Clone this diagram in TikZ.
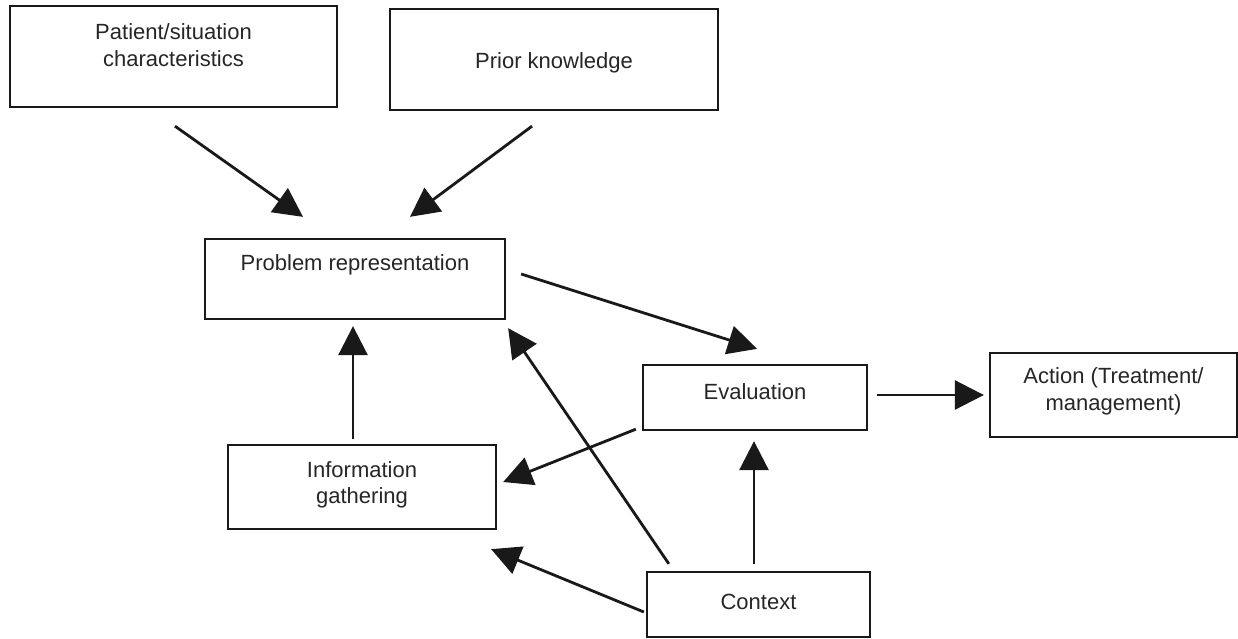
\documentclass[tikz,border=0pt]{standalone}
\usepackage{fontspec}
\setmainfont{Liberation Sans}
\usetikzlibrary{calc,arrows.meta}
\begin{document}
\begin{tikzpicture}[x=1pt,y=-1pt,
  box/.style={draw=black!90, line width=2.3pt, rectangle, inner sep=0pt},
  txt/.style={font=\fontsize{22}{26.5}\selectfont, align=center, text=black!85, inner sep=0pt},
  arr/.style={draw=black!90, line width=2.8pt, -{Triangle[length=29pt,width=29pt]}}]
\useasboundingbox (0,0) rectangle (1238,638);
\fill[white] (0,0) rectangle (1238,638);

\node[box, minimum width=327pt, minimum height=101pt,
  label={[txt, yshift=11.5pt]center:Patient/situation\\characteristics}] (pat) at (173.5,56.5) {};
\node[box, minimum width=328pt, minimum height=101pt,
  label={[txt, yshift=-3.5pt]center:Prior knowledge}] (prior) at (554,59.5) {};
\node[box, minimum width=300pt, minimum height=80pt,
  label={[txt, yshift=14pt]center:Problem representation}] (prob) at (355,279) {};
\node[box, minimum width=224pt, minimum height=65pt,
  label={[txt, yshift=5.5pt]center:Evaluation}] (eval) at (755,397.5) {};
\node[box, minimum width=247pt, minimum height=84pt,
  label={[txt, yshift=3.5pt]center:Action (Treatment/\\management)}] (act) at (1113.5,395) {};
\node[box, minimum width=268pt, minimum height=84pt,
  label={[txt, yshift=2pt]center:Information\\gathering}] (info) at (362,487) {};
\node[box, minimum width=223pt, minimum height=65pt,
  label={[txt, yshift=2.5pt]center:Context}] (ctx) at (758.5,604.5) {};

\draw[arr] ($(pat.south)+(1.5,18)$) -- ($(prob.north)+(-52,-21)$);
\draw[arr] ($(prior.south)+(-22,15)$) -- ($(prob.north)+(55,-21)$);
\draw[arr] ($(prob.east)+(15,-5)$) -- ($(eval.north)+(2,-15)$);
\draw[arr] ($(eval.east)+(9,-2.5)$) -- ($(act.west)+(-5,0)$);
\draw[arr] ($(info.north)+(-9,-5)$) -- ($(prob.south)+(-2,6)$);
\draw[arr] ($(eval.south west)+(-6,-2)$) -- ($(info.east)+(6,-5)$);
\draw[arr] ($(ctx.north west)+(23,-7)$) -- ($(prob.south east)+(2,8)$);
\draw[arr] ($(ctx.north)+(-4.5,-7)$) -- ($(eval.south)+(-1,10)$);
\draw[arr] ($(ctx.west)+(-2,7.5)$) -- ($(info.south east)+(-6,19)$);
\end{tikzpicture}
\end{document}
